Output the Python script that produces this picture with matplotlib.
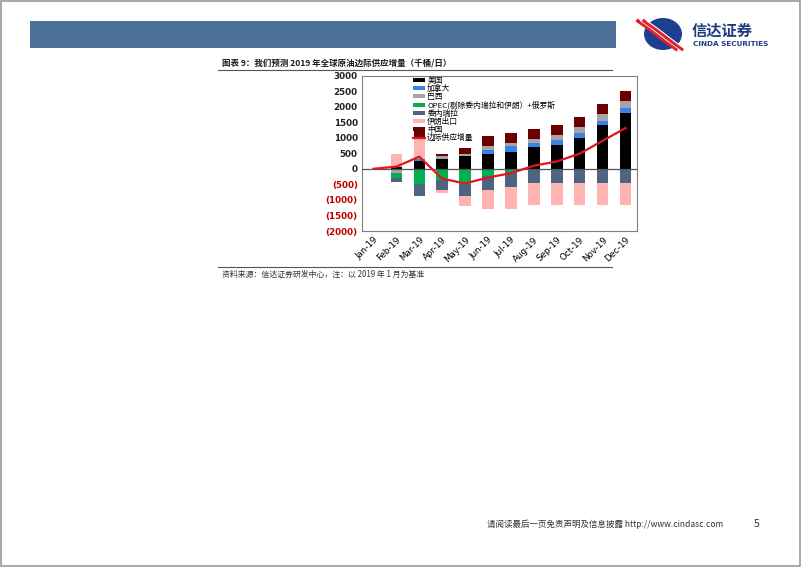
import numpy as np
import matplotlib
matplotlib.use("Agg")
import matplotlib.pyplot as plt
from matplotlib.patches import Rectangle, Ellipse, Patch
from matplotlib.lines import Line2D

plt.rcParams['font.family'] = ['Noto Sans CJK SC', 'DejaVu Sans']

months = ['Jan-19', 'Feb-19', 'Mar-19', 'Apr-19', 'May-19', 'Jun-19',
          'Jul-19', 'Aug-19', 'Sep-19', 'Oct-19', 'Nov-19', 'Dec-19']

# 千桶/日
us = [0, 60, 240, 330, 400, 470, 540, 685, 770, 1005, 1400, 1790]
canada = [0, 0, 60, 0, 0, 140, 180, 140, 160, 145, 150, 160]
brazil = [0, -130, 0, 70, 70, 110, 105, 140, 160, 190, 205, 215]
opec = [0, -170, -480, -350, -500, -230, -90, 0, 0, 0, 0, 0]
venezuela = [0, -120, -390, -330, -370, -450, -500, -470, -470, -470, -470, -470]
iran = [0, 420, 700, -100, -330, -610, -700, -710, -710, -710, -710, -710]
china = [0, 0, 250, 70, 210, 320, 325, 320, 310, 320, 325, 345]
total = [0, 70, 390, -320, -470, -280, -140, 100, 235, 490, 900, 1310]

series = [
    ('美国', us, '#000000'),
    ('加拿大', canada, '#3B82E8'),
    ('巴西', brazil, '#A5A5A5'),
    ('OPEC(剔除委内瑞拉和伊朗）+俄罗斯', opec, '#00B050'),
    ('委内瑞拉', venezuela, '#4E6483'),
    ('伊朗出口', iran, '#FFB3B3'),
    ('中国', china, '#6B0000'),
]

W, H = 802, 567
fig = plt.figure(figsize=(W / 100, H / 100), dpi=100)

def fx(px):
    return px / W

def fy(py):
    return 1 - py / H

# page frame, banner
fig.patches.append(Rectangle((0.001, 0.001), 0.997, 0.997, transform=fig.transFigure,
                             fill=False, edgecolor='#9A9A9A', linewidth=1.2))
fig.patches.append(Rectangle((fx(30), fy(48)), fx(586), 27 / H, transform=fig.transFigure,
                             facecolor='#4C7098', edgecolor='none'))

# logo
fig.patches.append(Ellipse((fx(663), fy(34)), 38 / W, 32 / H, transform=fig.transFigure,
                           facecolor='#1C3F8F', edgecolor='none'))
for dx, c, lw in ((-5, '#E0202A', 2.6), (-2, 'white', 1.0), (1, '#E0202A', 2.4), (4, 'white', 0.8)):
    fig.lines.append(Line2D([fx(643 + dx), fx(653 + dx), fx(670 + dx), fx(681 + dx)],
                            [fy(21), fy(28), fy(41), fy(49)],
                            transform=fig.transFigure, color=c, linewidth=lw))
fig.text(fx(692), fy(31), '信达证券', fontsize=11, fontweight='bold',
         color='#1F3C80', va='center', ha='left')
fig.text(fx(693), fy(43.5), 'CINDA SECURITIES', fontsize=5.2, fontweight='bold',
         color='#1F3C80', va='center', ha='left', family='DejaVu Sans')

# title and rules
fig.text(fx(222), fy(63), '图表 9：我们预测 2019 年全球原油边际供应增量（千桶/日）',
         fontsize=6.1, fontweight='bold', color='#1A1A1A', va='center', ha='left')
fig.lines.append(Line2D([fx(218), fx(612)], [fy(70), fy(70)],
                        transform=fig.transFigure, color='#555555', linewidth=0.8))
fig.lines.append(Line2D([fx(218), fx(612)], [fy(267), fy(267)],
                        transform=fig.transFigure, color='#555555', linewidth=0.8))
fig.text(fx(222), fy(274), '资料来源：信达证券研发中心，注：以 2019 年 1 月为基准',
         fontsize=5.7, color='#333333', va='center', ha='left', style='italic')

# footer
fig.text(fx(605), fy(524), '请阅读最后一页免责声明及信息披露 http://www.cindasc.com',
         fontsize=6.1, color='#333333', va='center', ha='center')
fig.text(fx(757), fy(524), '5', fontsize=7.5, color='#333333', va='center', ha='center')

# chart
ax = fig.add_axes([fx(362), fy(231), 275 / W, 155.5 / H])
x = np.arange(len(months))
pos_bottom = np.zeros(len(months))
neg_bottom = np.zeros(len(months))
handles = []
for name, vals, color in series:
    v = np.array(vals, dtype=float)
    pos = np.where(v > 0, v, 0)
    neg = np.where(v < 0, v, 0)
    ax.bar(x, pos, bottom=pos_bottom, width=0.5, color=color, zorder=2)
    ax.bar(x, neg, bottom=neg_bottom, width=0.5, color=color, zorder=2)
    pos_bottom += pos
    neg_bottom += neg
    handles.append(Patch(facecolor=color, label=name))

ax.axhline(0, color='#555555', linewidth=0.9, zorder=3)
line, = ax.plot(x, total, color='#E3141C', linewidth=1.6, zorder=4, label='边际供应增量')
handles.append(line)

ax.set_xlim(-0.5, 11.5)
ax.set_ylim(-2000, 3000)
yt = np.arange(-2000, 3001, 500)
ax.set_yticks(yt)
ax.set_yticklabels([f'({abs(v)})' if v < 0 else f'{v}' for v in yt],
                   fontsize=6.3, fontweight='bold', family='DejaVu Sans')
for lab, v in zip(ax.get_yticklabels(), yt):
    lab.set_color('#C00000' if v < 0 else '#222222')
ax.set_xticks(x)
ax.set_xticklabels(months, rotation=45, ha='right', rotation_mode='anchor',
                   fontsize=6.3, family='DejaVu Sans')
ax.tick_params(axis='both', length=0, pad=3)
for s in ax.spines.values():
    s.set_color('#7F7F7F')
    s.set_linewidth(0.8)

ax.legend(handles=handles, loc='upper left', bbox_to_anchor=(0.185, 0.99),
          frameon=False, fontsize=5.6, labelspacing=0.0, handlelength=1.6,
          handleheight=0.4, handletextpad=0.25, borderaxespad=0, borderpad=0)

fig.savefig('out.png', dpi=100)
